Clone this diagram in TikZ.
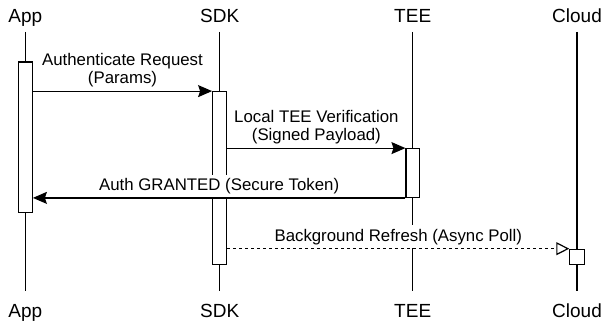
\documentclass[tikz,border=0pt]{standalone}
\usepackage{fontspec}
\setmainfont{Liberation Sans}
\usetikzlibrary{arrows.meta, positioning, calc}
\tikzset{
	actor/.style={
		font=\fontsize{19}{22}\selectfont,
		inner sep=0pt,
		anchor=base
	},
	bar/.style={
		draw,
		rectangle,
		fill=white,
		line width=1.2pt,
		minimum width=14pt,
		inner sep=0pt
	},
	msgtext/.style={
		above,
		inner sep=3.5pt,
		align=center,
		font=\fontsize{16.8}{18.5}\selectfont
	}
}

\begin{document}
\begin{tikzpicture}[x=1pt, y=-1pt]
	\tikzset{life/.style={line width=1.2pt}}
	\tikzset{msg/.style={line width=1.2pt, -{Stealth[length=14pt, width=12pt, inset=2pt]}}}
	\tikzset{async/.style={line width=1.2pt, dash pattern=on 3pt off 3pt, -{Triangle[open, length=13pt, width=13pt]}}}
	
	\useasboundingbox (0,0) rectangle (602,329);
	
	\node(app) at (25.3,22.5) [actor] {App};
	\node(sdk) at (219.7,22.5) [actor] {SDK};
	\node(tee) at (412.7,22.5) [actor] {TEE};
	\node(cloud) at (577,22.5) [actor] {Cloud};
	
	\node(app_end) at (25.3,317.7) [actor] {App};
	\node(sdk_end) at (219.7,317.7) [actor] {SDK};
	\node(tee_end) at (412.7,317.7) [actor] {TEE};
	\node(cloud_end) at (577,317.7) [actor] {Cloud};
	
	% lifelines
	\coordinate(app_top) at (25.3,32);
	\coordinate(app_bot) at (25.3,291);
	\coordinate(sdk_top) at (219.7,32);
	\coordinate(sdk_bot) at (219.7,291);
	\coordinate(tee_top) at (412.7,32);
	\coordinate(tee_bot) at (412.7,291);
	\coordinate(cloud_top) at (577,32);
	\coordinate(cloud_bot) at (577,291);
	\draw[life] (app_top) -- (app_bot);
	\draw[life] (sdk_top) -- (sdk_bot);
	\draw[life] (tee_top) -- (tee_bot);
	\draw[life] (cloud_top) -- (cloud_bot);
	
	% activations
	\node(app_bar) at (25.3,137.4) [bar, minimum height=150.7pt] {};
	\node(sdk_bar) at (219.7,178) [bar, minimum height=172.6pt] {};
	\node(tee_bar) at (412.7,173) [bar, minimum height=48.6pt, minimum width=13.3pt] {};
	\node(cloud_bar) at (577,256.8) [bar, minimum height=15pt, minimum width=14.3pt] {};
	
	\draw[msg] (app_bar.east |- sdk_bar.north) -- node[msgtext]{Authenticate Request\\(Params)} (sdk_bar.north west);
	\draw[msg] (sdk_bar.east |- tee_bar.north) -- node[msgtext]{Local TEE Verification\\(Signed Payload)} (tee_bar.north west);
	\draw[msg] (tee_bar.south west) -- node[msgtext, fill=white]{Auth GRANTED (Secure Token)} (app_bar.east |- tee_bar.south);
	\draw[async] (sdk_bar.east |- cloud_bar.north) -- node[msgtext, fill=white]{Background Refresh (Async Poll)} (cloud_bar.north west);
	
\end{tikzpicture}
\end{document}
